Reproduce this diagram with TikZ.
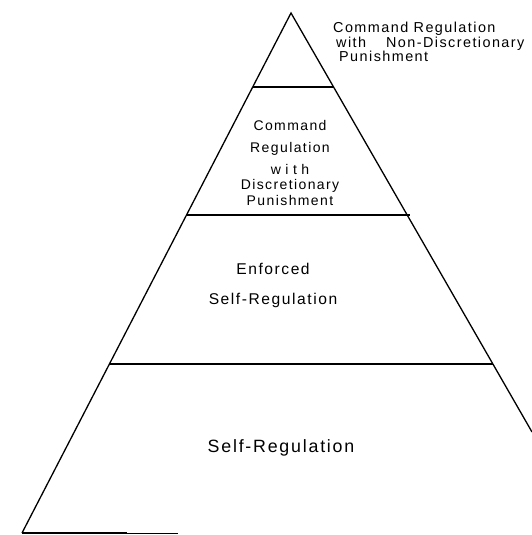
\documentclass[tikz,border=0pt]{standalone}
\usepackage{fontspec}
\setmainfont{Liberation Sans}[LetterSpace=10]
\usepackage{tikz}

\begin{document}
\begin{tikzpicture}[x=1pt, y=-1pt,
    side/.style={line width=1.3pt},
    level/.style={line width=1.1pt},
    label/.style={align=center, inner sep=0pt}]

    \useasboundingbox (0,0) rectangle (532,535);

    % Coordinates
    \coordinate (apex) at (291,13);
    \coordinate (baseL) at (22,533);
    \coordinate (baseM) at (127,533);
    \coordinate (baseR) at (178,533);
    \coordinate (rimR) at (532,432);

    % Pyramid
    % Sides
    \draw [side] (baseL) -- (apex) -- (rimR);
    % Base
    \draw [side] (baseL) -- (baseM);
    \draw [thin] (baseM) -- (baseR);

    % Levels
    \draw [level] (253,87) -- (333,87);
    \draw [level] (187,215) -- (410,215);
    \draw [level] (110,364) -- (493,364);

    % Labels
    \node [label, anchor=west, align=left, font=\fontsize{14.4}{14.5}\selectfont] (cmdfix) at (333,42)
        {Command Regulation\\ \hspace{3pt}with\hspace{20pt}Non-Discretionary\\ \hspace{6pt}Punishment};
    \node [label, font=\fontsize{14}{17}\selectfont] (cmdfree) at (290,163)
        {Command\\[5pt] Regulation\\[5pt] {\addfontfeature{LetterSpace=32}with}\\[-2pt] Discretionary\\[-1pt] Punishment};
    \node [label, font=\fontsize{15.6}{30}\selectfont] (enforced) at (273,285)
        {Enforced\\ Self-Regulation};
    \node [label, font=\fontsize{17.8}{22}\selectfont] (self) at (281,448) {Self-Regulation};

\end{tikzpicture}
\end{document}
